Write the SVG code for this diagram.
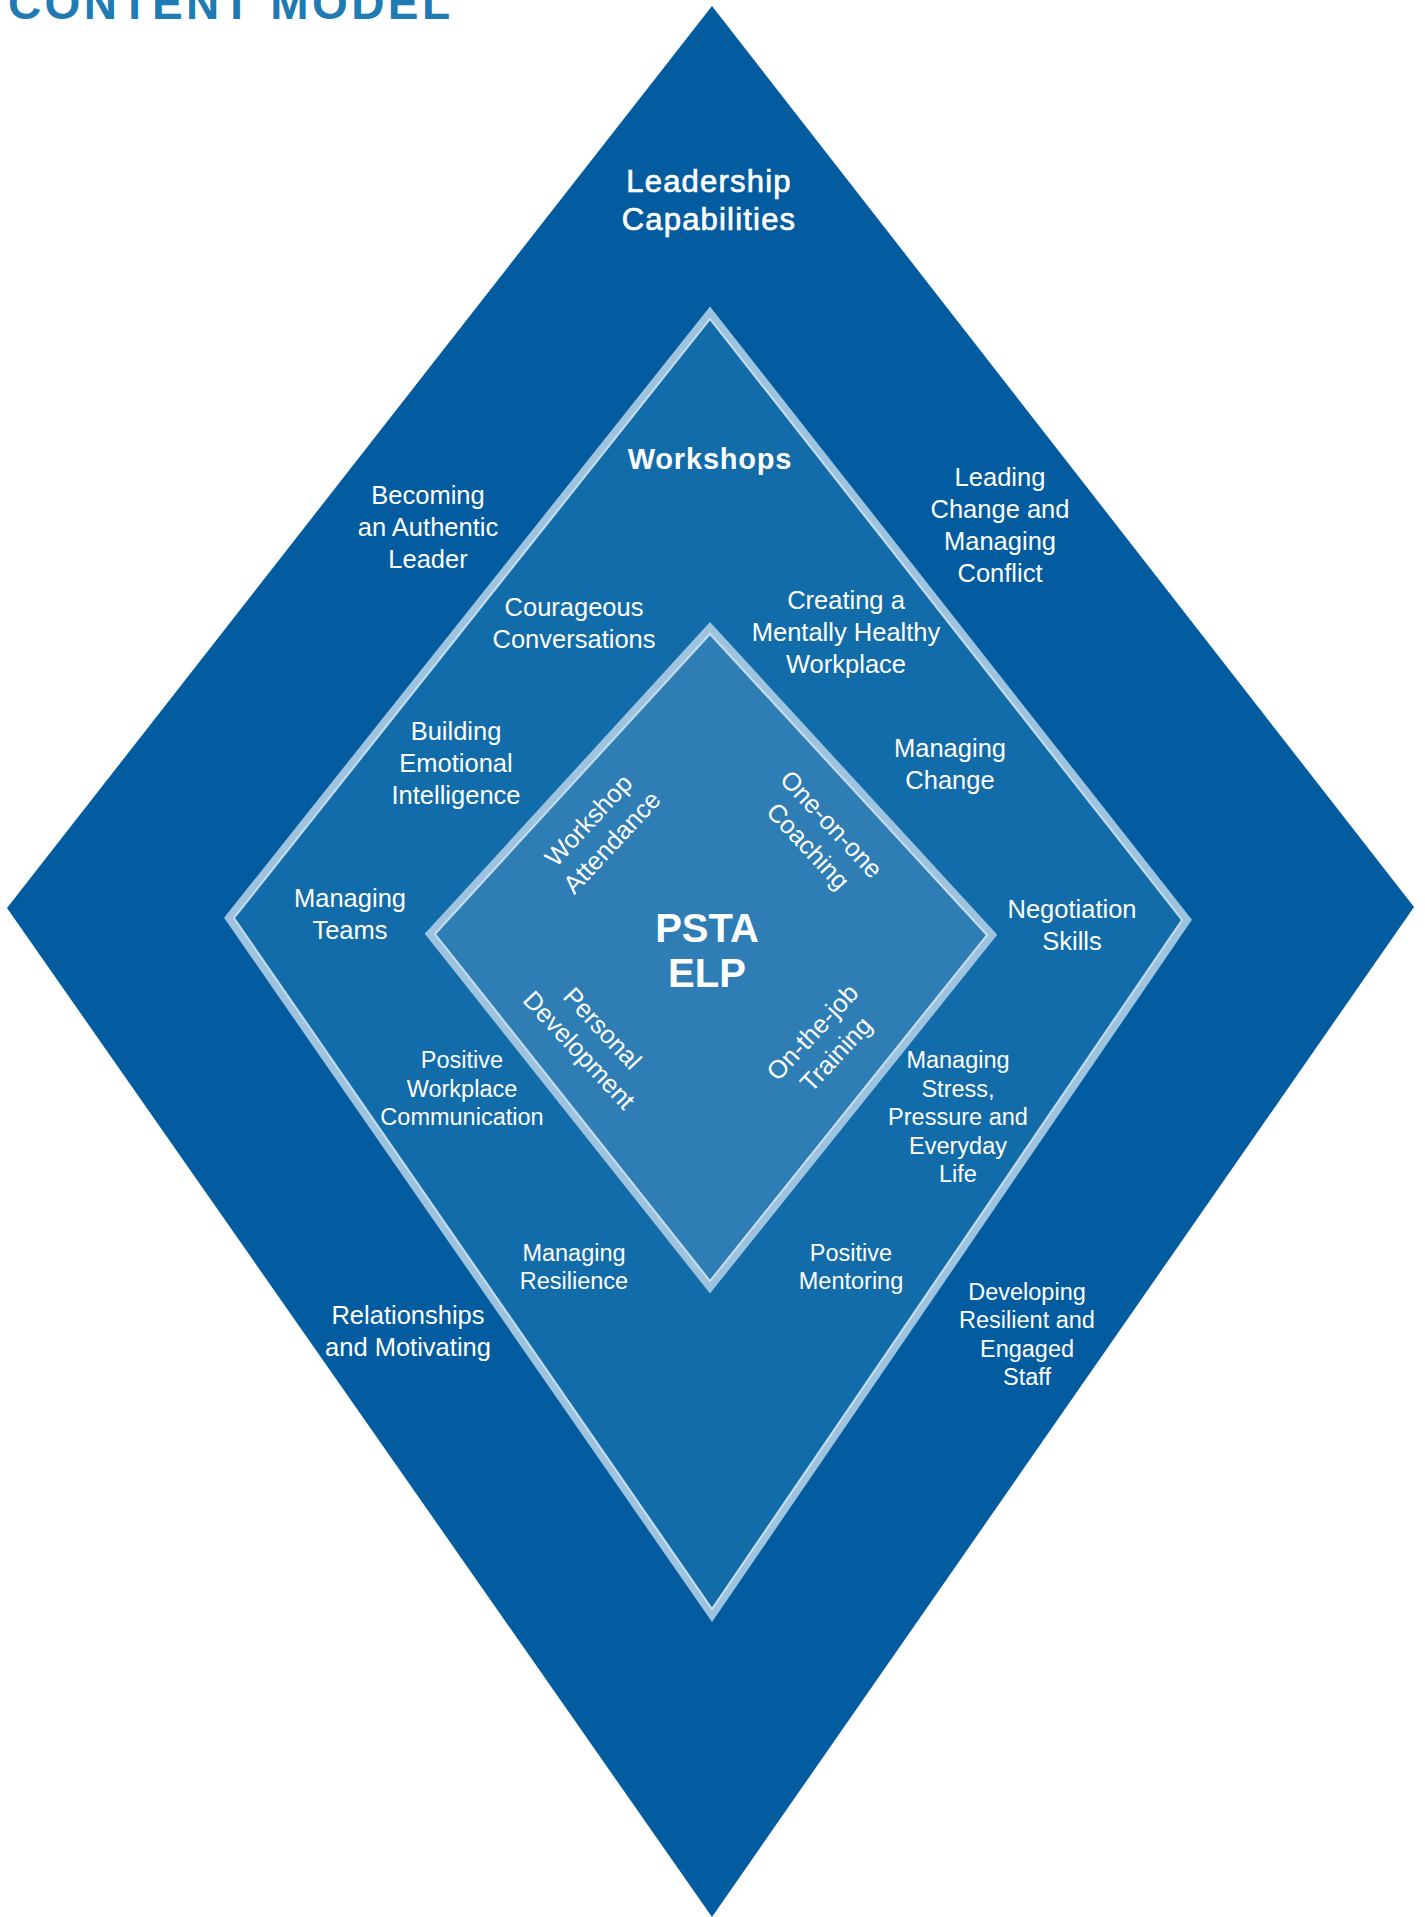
<svg xmlns="http://www.w3.org/2000/svg" width="1425" height="1917" viewBox="0 0 1425 1917">
  <style>
    text { font-family: "Liberation Sans", Arial, sans-serif; fill: #ffffff; text-anchor: middle; }
    .title { font-size: 46px; font-weight: bold; fill: #1f7bb4; text-anchor: start; letter-spacing: 3.4px; }
    .head { font-size: 31px; letter-spacing: 1.2px; stroke: #ffffff; stroke-width: 0.7px; }
    .sub { font-size: 29px; font-weight: bold; letter-spacing: 0.8px; }
    .lg { font-size: 25.5px; }
    .sm { font-size: 23.5px; }
    .core { font-size: 40px; font-weight: bold; }
    .band { fill: none; stroke: #9ec3df; stroke-width: 8; stroke-linejoin: miter; }
    .edge { fill: none; stroke: #d3e6f3; stroke-width: 2; stroke-linejoin: miter; opacity: 0.85; }
  </style>

  <rect x="0" y="0" width="1425" height="1917" fill="#ffffff"/>

  <text class="title" x="8" y="19">CONTENT MODEL</text>

  <!-- Outer diamond: leadership capabilities -->
  <g id="capabilities">
    <polygon points="712,6 1414,907 712,1917 7,908" fill="#035c9f"/>
    <text class="head" x="709" y="192">Leadership</text>
    <text class="head" x="709" y="230">Capabilities</text>
  </g>

  <!-- Middle diamond: workshops -->
  <g id="workshops">
    <polygon points="710,313 1187,920 712,1615 229,918" fill="#126ca9"/>
    <polygon class="band" points="710,313 1187,920 712,1615 229,918"/>
    <polygon class="edge" points="710,319 1182,920 712,1609 234,918"/>
    <text class="sub" x="710" y="469">Workshops</text>
  </g>

  <!-- Inner diamond: programme core -->
  <g id="core">
    <polygon points="710,628 992,935 710,1287 430,934" fill="#2e7db4"/>
    <polygon class="band" points="710,628 992,935 710,1287 430,934" stroke="#a6c9e2"/>
    <polygon class="edge" points="710,634 987,935 710,1281 435,934"/>
    <text class="core" x="707" y="942">PSTA</text>
    <text class="core" x="707" y="987">ELP</text>
  </g>

  <!-- Core components, set along the inner edges -->
  <g id="workshop-attendance" transform="translate(600,831) rotate(-47)">
    <text class="lg" x="0" y="-7">Workshop</text>
    <text class="lg" x="0" y="25">Attendance</text>
  </g>
  <g id="one-on-one-coaching" transform="translate(820,835) rotate(47)">
    <text class="lg" x="0" y="-7">One-on-one</text>
    <text class="lg" x="0" y="25">Coaching</text>
  </g>
  <g id="personal-development" transform="translate(591,1039) rotate(47)">
    <text class="lg" x="0" y="-7">Personal</text>
    <text class="lg" x="0" y="25">Development</text>
  </g>
  <g id="on-the-job-training" transform="translate(824,1043) rotate(-47)">
    <text class="lg" x="0" y="-7">On-the-job</text>
    <text class="lg" x="0" y="25">Training</text>
  </g>

  <!-- Capability labels (outer ring) -->
  <g id="authentic-leader">
    <text class="lg" x="428" y="504">Becoming</text>
    <text class="lg" x="428" y="536">an Authentic</text>
    <text class="lg" x="428" y="568">Leader</text>
  </g>
  <g id="leading-change">
    <text class="lg" x="1000" y="486">Leading</text>
    <text class="lg" x="1000" y="518">Change and</text>
    <text class="lg" x="1000" y="550">Managing</text>
    <text class="lg" x="1000" y="582">Conflict</text>
  </g>
  <g id="relationships">
    <text class="lg" x="408" y="1324">Relationships</text>
    <text class="lg" x="408" y="1356">and Motivating</text>
  </g>
  <g id="resilient-staff">
    <text class="sm" x="1027" y="1300">Developing</text>
    <text class="sm" x="1027" y="1328">Resilient and</text>
    <text class="sm" x="1027" y="1357">Engaged</text>
    <text class="sm" x="1027" y="1385">Staff</text>
  </g>

  <!-- Workshop labels (middle ring) -->
  <g id="courageous-conversations">
    <text class="lg" x="574" y="616">Courageous</text>
    <text class="lg" x="574" y="648">Conversations</text>
  </g>
  <g id="mentally-healthy">
    <text class="lg" x="846" y="609">Creating a</text>
    <text class="lg" x="846" y="641">Mentally Healthy</text>
    <text class="lg" x="846" y="673">Workplace</text>
  </g>
  <g id="emotional-intelligence">
    <text class="lg" x="456" y="740">Building</text>
    <text class="lg" x="456" y="772">Emotional</text>
    <text class="lg" x="456" y="804">Intelligence</text>
  </g>
  <g id="managing-change">
    <text class="lg" x="950" y="757">Managing</text>
    <text class="lg" x="950" y="789">Change</text>
  </g>
  <g id="managing-teams">
    <text class="lg" x="350" y="907">Managing</text>
    <text class="lg" x="350" y="939">Teams</text>
  </g>
  <g id="negotiation">
    <text class="lg" x="1072" y="918">Negotiation</text>
    <text class="lg" x="1072" y="950">Skills</text>
  </g>
  <g id="workplace-communication">
    <text class="sm" x="462" y="1068">Positive</text>
    <text class="sm" x="462" y="1097">Workplace</text>
    <text class="sm" x="462" y="1125">Communication</text>
  </g>
  <g id="managing-stress">
    <text class="sm" x="958" y="1068">Managing</text>
    <text class="sm" x="958" y="1097">Stress,</text>
    <text class="sm" x="958" y="1125">Pressure and</text>
    <text class="sm" x="958" y="1154">Everyday</text>
    <text class="sm" x="958" y="1182">Life</text>
  </g>
  <g id="managing-resilience">
    <text class="sm" x="574" y="1261">Managing</text>
    <text class="sm" x="574" y="1289">Resilience</text>
  </g>
  <g id="positive-mentoring">
    <text class="sm" x="851" y="1261">Positive</text>
    <text class="sm" x="851" y="1289">Mentoring</text>
  </g>

  <!-- No connectors in this model -->
  <g id="connectors"/>
</svg>
